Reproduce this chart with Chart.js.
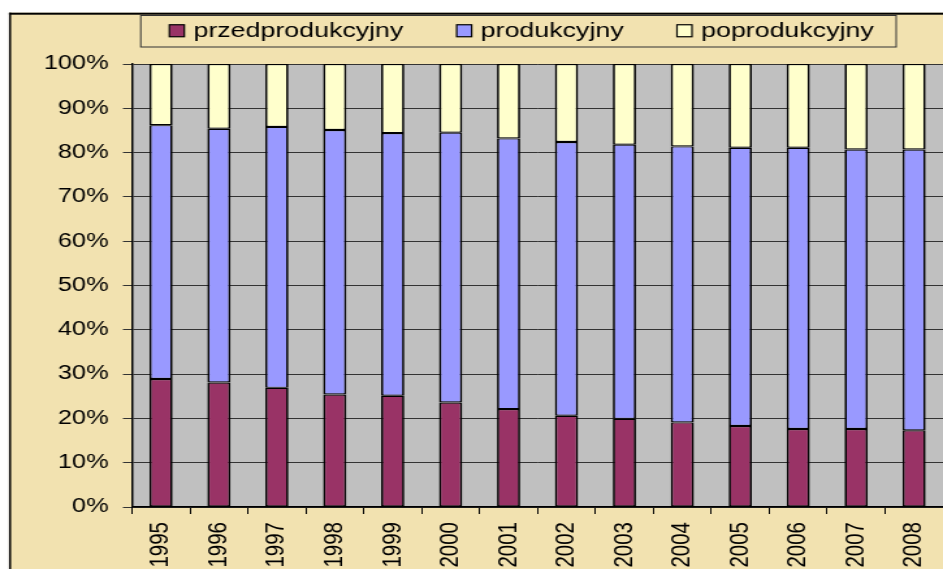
<!DOCTYPE html>
<html><head><meta charset="utf-8">
<script src="https://cdn.jsdelivr.net/npm/chart.js@4/dist/chart.umd.min.js"></script>
<style>
html,body{margin:0;padding:0;background:#fff;overflow:hidden;width:943px;height:569px}
#wrap{position:absolute;left:0;top:0;width:725px;height:569px;transform:scaleX(1.30069);transform-origin:0 0}
canvas{display:block}
</style></head>
<body><div id="wrap"><canvas id="c" width="725" height="569"></canvas></div>
<script>
const years = ['1995','1996','1997','1998','1999','2000','2001','2002','2003','2004','2005','2006','2007','2008'];
const przedprodukcyjny = [28.9,28.1,26.9,25.4,25.1,23.6,22.1,20.6,19.9,19.1,18.3,17.6,17.6,17.3];
const produkcyjny      = [57.3,57.3,58.9,59.7,59.3,60.9,61.1,61.8,61.9,62.3,62.8,63.5,63.1,63.4];
const poprodukcyjny    = [13.8,14.6,14.2,14.9,15.6,15.5,16.8,17.6,18.2,18.6,18.9,18.9,19.3,19.3];
const seriesNames = ['przedprodukcyjny','produkcyjny','poprodukcyjny'];
const seriesColors = ['#993366','#9999FF','#FFFFCC'];

const FONT = 'Liberation Sans, Arial, sans-serif';
const CREAM = '#F2E2B0';

const bgPlugin = {
  id: 'bg',
  beforeDraw(chart) {
    const c = chart.ctx, a = chart.chartArea;
    c.save();
    c.fillStyle = '#fff';
    c.fillRect(0, 0, chart.width, chart.height);
    c.fillStyle = CREAM;
    c.fillRect(6.9, 12.7, chart.width, chart.height);
    c.fillStyle = '#000';
    c.fillRect(6.9, 12.7, 1.6, chart.height);
    c.fillRect(6.9, 12.7, chart.width, 2);
    c.fillStyle = '#C0C0C0';
    c.fillRect(a.left, a.top, chart.width - a.left, a.bottom - a.top);
    c.restore();
  }
};

const boxLegend = {
  id: 'boxLegend',
  afterDraw(chart) {
    const c = chart.ctx;
    c.save();
    const bx = 107.7, by = 15, bw = 580.8, bh = 31.5;
    c.fillStyle = CREAM;
    c.fillRect(bx, by, bw, bh);
    c.strokeStyle = '#333';
    c.lineWidth = 1;
    c.strokeRect(bx + 0.5, by + 0.5, bw, bh);
    c.font = '20.6px ' + FONT;
    c.textBaseline = 'middle';
    c.textAlign = 'left';
    let x = bx + 22.5;
    const cy = by + bh / 2;
    chart.data.datasets.forEach(ds => {
      c.fillStyle = ds.backgroundColor;
      c.fillRect(x, cy - 6, 11.5, 12);
      c.strokeStyle = '#000';
      c.lineWidth = 1.2;
      c.strokeRect(x, cy - 6, 11.5, 12);
      const tx = x + 18.5;
      c.fillStyle = '#000';
      c.fillText(ds.label, tx, cy + 1);
      x = tx + c.measureText(ds.label).width + 41;
    });
    c.restore();
  }
};

const dataSeries = [przedprodukcyjny, produkcyjny, poprodukcyjny];
new Chart(document.getElementById('c'), {
  type: 'bar',
  data: {
    labels: years,
    datasets: dataSeries.map((d, i) => ({
      label: seriesNames[i],
      data: d,
      backgroundColor: seriesColors[i],
      borderColor: '#000',
      borderWidth: { top: 1.2, bottom: 1.2, left: 1.7, right: 1.7 },
      borderSkipped: false,
      categoryPercentage: 1.0,
      barPercentage: 0.4
    }))
  },
  options: {
    responsive: false,
    animation: false,
    devicePixelRatio: 1,
    layout: { padding: { top: 64, left: 0, right: 0, bottom: 0 } },
    plugins: { legend: { display: false }, tooltip: { enabled: false } },
    scales: {
      x: {
        stacked: true,
        grid: { offset: true, drawOnChartArea: false, drawTicks: true, tickLength: 7, color: '#000', lineWidth: 1 },
        border: { display: true, color: '#000', width: 1.5 },
        ticks: { minRotation: 90, maxRotation: 90, autoSkip: false, padding: 8, color: '#000', font: { family: FONT, size: 20.5 } },
        afterFit(s) { s.height = 62; s.paddingRight = 0; s.paddingLeft = 0; }
      },
      y: {
        stacked: true,
        min: 0, max: 100,
        ticks: { stepSize: 10, callback: v => v + '%', padding: 11, color: '#000', font: { family: FONT, size: 19.5 } },
        grid: { color: '#333', lineWidth: 1, tickLength: 7 },
        border: { display: true, color: '#000', width: 1.5 },
        afterFit(s) { s.width = 101.5; s.paddingTop = 0; s.paddingBottom = 0; }
      }
    }
  },
  plugins: [bgPlugin, boxLegend]
});
</script>
</body></html>
